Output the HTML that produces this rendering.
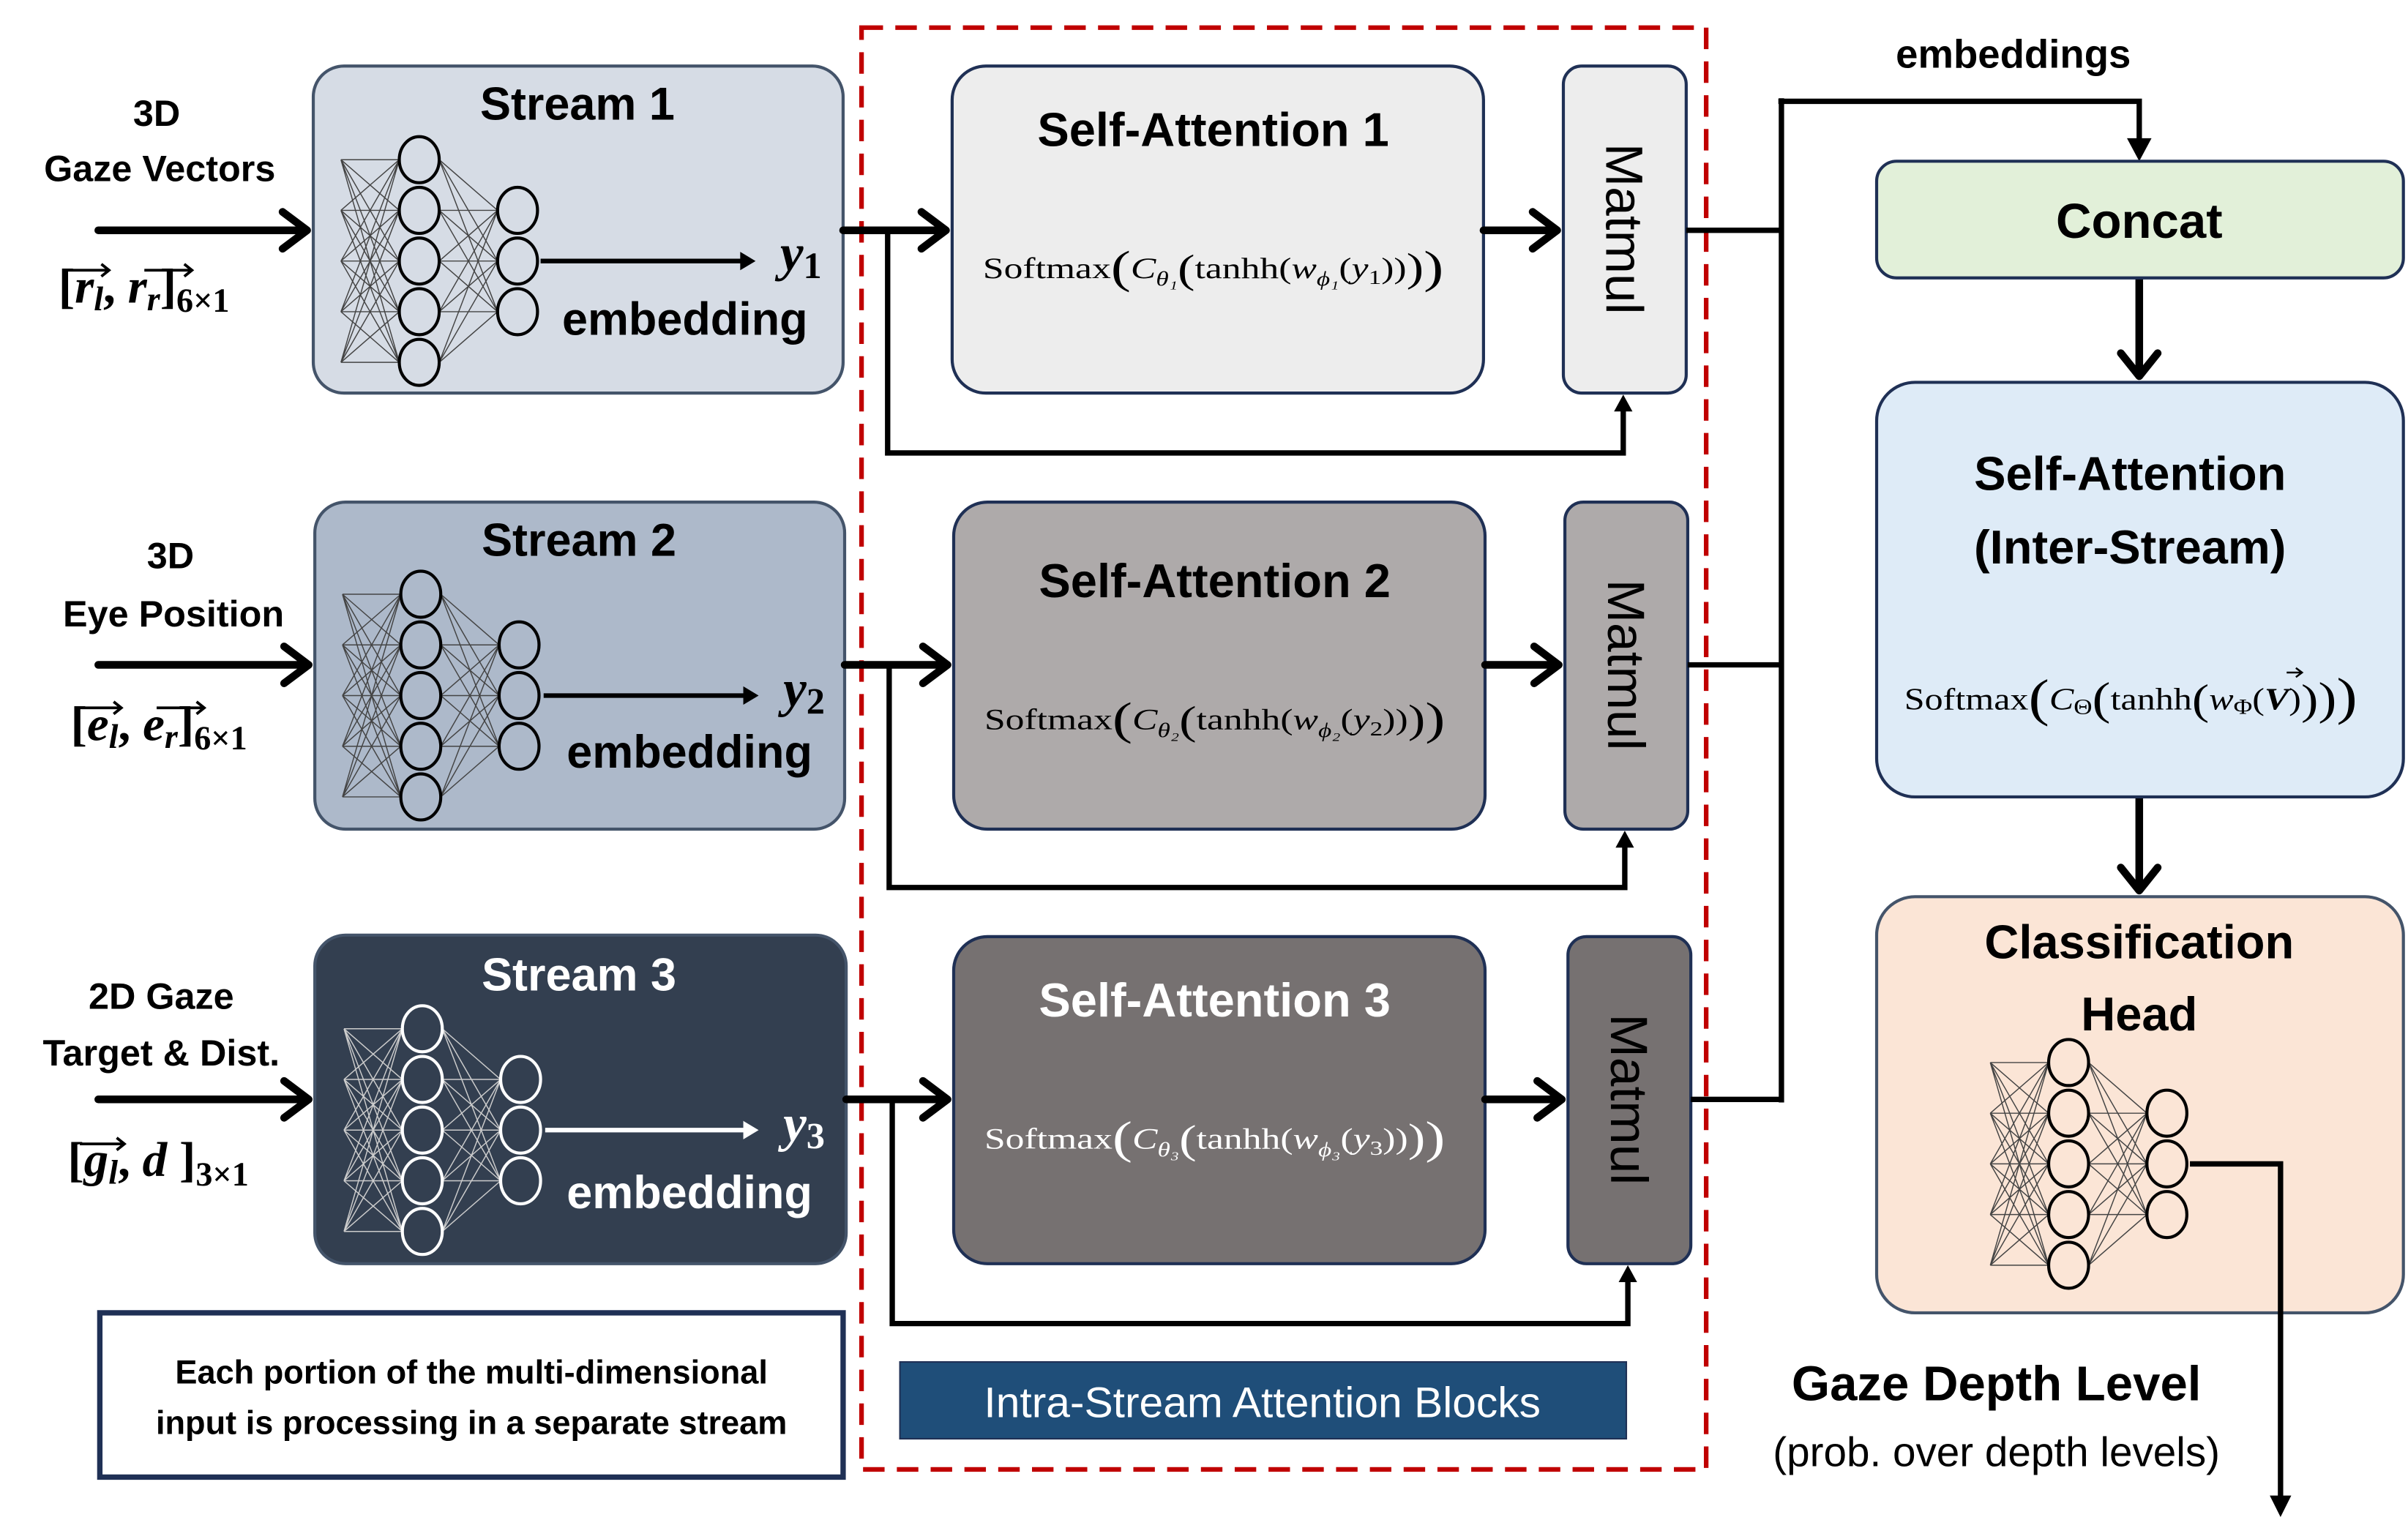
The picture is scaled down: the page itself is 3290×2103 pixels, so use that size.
<!DOCTYPE html>
<html><head><meta charset="utf-8"><style>
html,body{margin:0;padding:0;background:#fff;}
svg{display:block;}
.b{font-family:"Liberation Sans",sans-serif;font-weight:bold;}
.s{font-family:"Liberation Serif",serif;}
</style></head><body>
<svg width="3290" height="2103" viewBox="0 0 1568 1002.3" preserveAspectRatio="none" xmlns="http://www.w3.org/2000/svg">
<defs>
<g id="net">
<path d="M-51 0L-13 0M-51 0L-13 33M-51 0L-13 66M-51 0L-13 99M-51 0L-13 132M-51 33L-13 0M-51 33L-13 33M-51 33L-13 66M-51 33L-13 99M-51 33L-13 132M-51 66L-13 0M-51 66L-13 33M-51 66L-13 66M-51 66L-13 99M-51 66L-13 132M-51 99L-13 0M-51 99L-13 33M-51 99L-13 66M-51 99L-13 99M-51 99L-13 132M-51 132L-13 0M-51 132L-13 33M-51 132L-13 66M-51 132L-13 99M-51 132L-13 132M13 0L51 33M13 0L51 66M13 0L51 99M13 33L51 33M13 33L51 66M13 33L51 99M13 66L51 33M13 66L51 66M13 66L51 99M13 99L51 33M13 99L51 66M13 99L51 99M13 132L51 33M13 132L51 66M13 132L51 99" stroke="#444" stroke-width="0.7" fill="none"/>
<g fill="none" stroke="#000" stroke-width="2">
<ellipse cx="0" cy="0" rx="13" ry="15"/><ellipse cx="0" cy="33" rx="13" ry="15"/><ellipse cx="0" cy="66" rx="13" ry="15"/><ellipse cx="0" cy="99" rx="13" ry="15"/><ellipse cx="0" cy="132" rx="13" ry="15"/>
<ellipse cx="64" cy="33" rx="13" ry="15"/><ellipse cx="64" cy="66" rx="13" ry="15"/><ellipse cx="64" cy="99" rx="13" ry="15"/>
</g>
</g>
<g id="netw">
<path d="M-51 0L-13 0M-51 0L-13 33M-51 0L-13 66M-51 0L-13 99M-51 0L-13 132M-51 33L-13 0M-51 33L-13 33M-51 33L-13 66M-51 33L-13 99M-51 33L-13 132M-51 66L-13 0M-51 66L-13 33M-51 66L-13 66M-51 66L-13 99M-51 66L-13 132M-51 99L-13 0M-51 99L-13 33M-51 99L-13 66M-51 99L-13 99M-51 99L-13 132M-51 132L-13 0M-51 132L-13 33M-51 132L-13 66M-51 132L-13 99M-51 132L-13 132M13 0L51 33M13 0L51 66M13 0L51 99M13 33L51 33M13 33L51 66M13 33L51 99M13 66L51 33M13 66L51 66M13 66L51 99M13 99L51 33M13 99L51 66M13 99L51 99M13 132L51 33M13 132L51 66M13 132L51 99" stroke="#ccc" stroke-width="0.7" fill="none"/>
<g fill="none" stroke="#fff" stroke-width="2">
<ellipse cx="0" cy="0" rx="13" ry="15"/><ellipse cx="0" cy="33" rx="13" ry="15"/><ellipse cx="0" cy="66" rx="13" ry="15"/><ellipse cx="0" cy="99" rx="13" ry="15"/><ellipse cx="0" cy="132" rx="13" ry="15"/>
<ellipse cx="64" cy="33" rx="13" ry="15"/><ellipse cx="64" cy="66" rx="13" ry="15"/><ellipse cx="64" cy="99" rx="13" ry="15"/>
</g>
</g>
</defs>

<rect x="561" y="18" width="550" height="939" fill="none" stroke="#c00000" stroke-width="3" stroke-dasharray="14,8"/>

<rect x="204" y="43" width="345" height="213" rx="20" fill="#d6dce5" stroke="#44546a" stroke-width="2"/>
<rect x="205" y="327" width="345" height="213" rx="20" fill="#adb9ca" stroke="#44546a" stroke-width="2"/>
<rect x="205" y="609" width="346" height="214" rx="20" fill="#333f50" stroke="#44546a" stroke-width="2"/>
<use href="#net" x="273" y="104"/>
<use href="#net" x="274" y="387"/>
<use href="#netw" x="275" y="670"/>

<text x="376" y="78" class="b" font-size="30" text-anchor="middle">Stream 1</text>
<text x="377" y="362" class="b" font-size="30" text-anchor="middle">Stream 2</text>
<text x="377" y="645" class="b" font-size="30" text-anchor="middle" fill="#fff">Stream 3</text>
<text x="446" y="218" class="b" font-size="30" text-anchor="middle">embedding</text>
<text x="449" y="500" class="b" font-size="30" text-anchor="middle">embedding</text>
<text x="449" y="787" class="b" font-size="30" text-anchor="middle" fill="#fff">embedding</text>
<g class="s" font-size="34" font-style="italic" font-weight="bold">
<text x="508" y="176">y<tspan font-size="24" font-style="normal" dy="5">1</tspan></text>
<text x="510" y="460">y<tspan font-size="24" font-style="normal" dy="5">2</tspan></text>
<text x="510" y="743" fill="#fff">y<tspan font-size="24" font-style="normal" dy="5">3</tspan></text>
</g>
<g stroke-width="3">
<line x1="352" y1="170" x2="484" y2="170" stroke="#000"/><polygon points="492,170 482,164 482,176"/>
<line x1="354" y1="453" x2="486" y2="453" stroke="#000"/><polygon points="494,453 484,447 484,459"/>
<line x1="355" y1="736" x2="486" y2="736" stroke="#fff"/><polygon points="494,736 484,730 484,742" fill="#fff"/>
</g>

<g class="b" font-size="24" text-anchor="middle">
<text x="102" y="82">3D</text><text x="104" y="118">Gaze Vectors</text>
<text x="111" y="370">3D</text><text x="113" y="408">Eye Position</text>
<text x="105" y="657">2D Gaze</text><text x="105" y="694">Target &amp; Dist.</text>
</g>
<g class="s" font-size="32" font-weight="bold">
<text x="38" y="197">[<tspan font-style="italic">r</tspan><tspan font-style="italic" font-size="22" dy="5">l</tspan><tspan dy="-5">, </tspan><tspan font-style="italic">r</tspan><tspan font-style="italic" font-size="22" dy="5">r</tspan><tspan dy="-5">]</tspan><tspan font-size="22" dy="6">6×1</tspan></text>
<text x="46" y="482">[<tspan font-style="italic">e</tspan><tspan font-style="italic" font-size="22" dy="5">l</tspan><tspan dy="-5">, </tspan><tspan font-style="italic">e</tspan><tspan font-style="italic" font-size="22" dy="5">r</tspan><tspan dy="-5">]</tspan><tspan font-size="22" dy="6">6×1</tspan></text>
<text x="44" y="766">[<tspan font-style="italic">g</tspan><tspan font-style="italic" font-size="22" dy="5">l</tspan><tspan dy="-5">, </tspan><tspan font-style="italic">d</tspan><tspan> ]</tspan><tspan font-size="22" dy="6">3×1</tspan></text>
</g>
<g stroke="#000" stroke-width="1.8" fill="none">
<path d="M44 176H70M66 172l5 4-5 4M94 176H124M120 172l5 4-5 4"/>
<path d="M52 461H78M74 457l5 4-5 4M102 461H132M128 457l5 4-5 4"/>
<path d="M52 745H80M76 741l5 4-5 4"/>
</g>

<rect x="620" y="43" width="346" height="213" rx="22" fill="#ededed" stroke="#1f3055" stroke-width="2"/>
<rect x="621" y="327" width="346" height="213" rx="22" fill="#aeaaaa" stroke="#1f3055" stroke-width="2"/>
<rect x="621" y="610" width="346" height="213" rx="22" fill="#767171" stroke="#1f3055" stroke-width="2"/>
<rect x="1018" y="43" width="80" height="213" rx="12" fill="#ededed" stroke="#1f3055" stroke-width="2"/>
<rect x="1019" y="327" width="80" height="213" rx="12" fill="#aeaaaa" stroke="#1f3055" stroke-width="2"/>
<rect x="1021" y="610" width="80" height="213" rx="12" fill="#767171" stroke="#1f3055" stroke-width="2"/>
<g class="b" font-size="31" text-anchor="middle">
<text x="790" y="95">Self-Attention 1</text>
<text x="791" y="389">Self-Attention 2</text>
<text x="791" y="662" fill="#fff">Self-Attention 3</text>
</g>
<g font-family="'Liberation Sans',sans-serif" font-size="34" text-anchor="middle">
<text transform="translate(1046,149) rotate(90)">Matmul</text>
<text transform="translate(1047,433) rotate(90)">Matmul</text>
<text transform="translate(1049,716) rotate(90)">Matmul</text>
</g>
<g class="s" font-size="19">
<text x="640" y="181" textLength="300" lengthAdjust="spacingAndGlyphs">Softmax<tspan font-size="30" dy="3">(</tspan><tspan font-style="italic" dy="-3">C</tspan><tspan font-size="13" dy="5" font-style="italic">θ₁</tspan><tspan font-size="26" dy="-2">(</tspan><tspan dy="-3">tanhh(</tspan><tspan font-style="italic">w</tspan><tspan font-size="13" dy="5" font-style="italic">ϕ₁</tspan><tspan dy="-5">(</tspan><tspan font-style="italic">y</tspan><tspan font-size="13" dy="4">1</tspan><tspan dy="-4">))</tspan><tspan font-size="26" dy="2">)</tspan><tspan font-size="30" dy="1">)</tspan></text>
<text x="641" y="475" textLength="300" lengthAdjust="spacingAndGlyphs">Softmax<tspan font-size="30" dy="3">(</tspan><tspan font-style="italic" dy="-3">C</tspan><tspan font-size="13" dy="5" font-style="italic">θ₂</tspan><tspan font-size="26" dy="-2">(</tspan><tspan dy="-3">tanhh(</tspan><tspan font-style="italic">w</tspan><tspan font-size="13" dy="5" font-style="italic">ϕ₂</tspan><tspan dy="-5">(</tspan><tspan font-style="italic">y</tspan><tspan font-size="13" dy="4">2</tspan><tspan dy="-4">))</tspan><tspan font-size="26" dy="2">)</tspan><tspan font-size="30" dy="1">)</tspan></text>
<text x="641" y="748" textLength="300" lengthAdjust="spacingAndGlyphs" fill="#fff">Softmax<tspan font-size="30" dy="3">(</tspan><tspan font-style="italic" dy="-3">C</tspan><tspan font-size="13" dy="5" font-style="italic">θ₃</tspan><tspan font-size="26" dy="-2">(</tspan><tspan dy="-3">tanhh(</tspan><tspan font-style="italic">w</tspan><tspan font-size="13" dy="5" font-style="italic">ϕ₃</tspan><tspan dy="-5">(</tspan><tspan font-style="italic">y</tspan><tspan font-size="13" dy="4">3</tspan><tspan dy="-4">))</tspan><tspan font-size="26" dy="2">)</tspan><tspan font-size="30" dy="1">)</tspan></text>
</g>

<g stroke="#000" stroke-width="5" fill="none" stroke-linecap="round" stroke-linejoin="round">
<path d="M64 150H200M184 138l16 12-16 12"/>
<path d="M64 433H201M185 421l16 12-16 12"/>
<path d="M64 716H201M185 704l16 12-16 12"/>
<path d="M549 150H616M600 138l16 12-16 12"/>
<path d="M550 433H617M601 421l16 12-16 12"/>
<path d="M551 716H617M601 704l16 12-16 12"/>
<path d="M966 150H1014M998 138l16 12-16 12"/>
<path d="M967 433H1015M999 421l16 12-16 12"/>
<path d="M967 716H1017M1001 704l16 12-16 12"/>
</g>
<g stroke="#000" stroke-width="3.5" fill="none">
<path d="M578 150V295H1057V262"/>
<path d="M579 433V578H1058V546"/>
<path d="M581 716V862H1060V829"/>
<path d="M1098 150H1160M1099 433H1160M1101 716H1160M1160 64V718M1158 66H1393V96"/>
</g>
<g fill="#000">
<polygon points="1057,257 1051,268 1063,268"/>
<polygon points="1058,541 1052,552 1064,552"/>
<polygon points="1060,824 1054,835 1066,835"/>
<polygon points="1393,105 1385,90 1401,90"/>
</g>
<g stroke="#000" stroke-width="5" fill="none" stroke-linecap="round" stroke-linejoin="round">
<path d="M1393 181V245M1381 230l12 15 12-15"/>
<path d="M1393 519V580M1381 565l12 15 12-15"/>
</g>

<text x="1311" y="44" class="b" font-size="26" text-anchor="middle">embeddings</text>
<rect x="1222" y="105" width="343" height="76" rx="13" fill="#e2f0d9" stroke="#1f3055" stroke-width="2"/>
<text x="1393" y="155" class="b" font-size="32" text-anchor="middle">Concat</text>
<rect x="1222" y="249" width="343" height="270" rx="25" fill="#deebf7" stroke="#1f3055" stroke-width="2"/>
<text x="1387" y="319" class="b" font-size="31" text-anchor="middle">Self-Attention</text>
<text x="1387" y="367" class="b" font-size="31" text-anchor="middle">(Inter-Stream)</text>
<text x="1240" y="462" class="s" font-size="20" textLength="295" lengthAdjust="spacingAndGlyphs">Softmax<tspan font-size="34" dy="4">(</tspan><tspan font-style="italic" dy="-4">C</tspan><tspan font-size="14" dy="3">Θ</tspan><tspan font-size="30" dy="0">(</tspan><tspan dy="-3">tanhh</tspan><tspan font-size="28" dy="3">(</tspan><tspan font-style="italic" dy="-3">w</tspan><tspan font-size="14" dy="3">Φ</tspan><tspan dy="-3">(</tspan><tspan font-style="italic" font-weight="bold">V</tspan><tspan>)</tspan><tspan font-size="28" dy="3">)</tspan><tspan font-size="30">)</tspan><tspan font-size="34">)</tspan></text>
<path d="M1489 438h10M1495 435l4 3-4 3" stroke="#000" stroke-width="1.2" fill="none"/>
<rect x="1222" y="584" width="343" height="271" rx="25" fill="#fbe5d6" stroke="#44546a" stroke-width="2"/>
<text x="1393" y="624" class="b" font-size="31" text-anchor="middle">Classification</text>
<text x="1393" y="671" class="b" font-size="31" text-anchor="middle">Head</text>
<use href="#net" x="1347" y="692"/>
<path d="M1426 758H1485V975" stroke="#000" stroke-width="3.5" fill="none"/>
<polygon points="1485,988 1478,974 1492,974" fill="#000"/>
<text x="1300" y="912" class="b" font-size="32" text-anchor="middle">Gaze Depth Level</text>
<text x="1300" y="955" font-family="'Liberation Sans',sans-serif" font-size="27" text-anchor="middle">(prob. over depth levels)</text>

<rect x="65" y="855" width="484" height="107" fill="#fff" stroke="#1f3055" stroke-width="3.5"/>
<text x="307" y="901" class="b" font-size="21.5" text-anchor="middle">Each portion of the multi-dimensional</text>
<text x="307" y="934" class="b" font-size="21.5" text-anchor="middle">input is processing in a separate stream</text>
<rect x="586" y="887" width="473" height="50" fill="#1f4e79" stroke="#1f3055" stroke-width="1"/>
<text x="822" y="923" font-family="'Liberation Sans',sans-serif" font-size="28" fill="#fff" text-anchor="middle">Intra-Stream Attention Blocks</text>
</svg>
</body></html>
